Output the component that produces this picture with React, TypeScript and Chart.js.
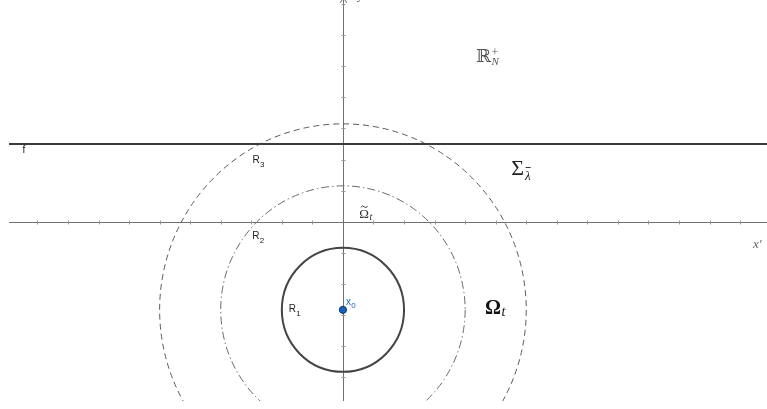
import React, { useEffect, useRef } from "react";
import { Chart, registerables } from "chart.js";

Chart.register(...registerables);

// view window (data units)
const xBounds = [-10.93, 13.88];
const yBounds = [-5.79, 7.145];

// axis tick values
const xTicks = [-10, -9, -8, -7, -6, -5, -4, -3, -2, -1, 1, 2, 3, 4, 5, 6, 7, 8, 9, 10, 11, 12, 13];
const yTicks = [-5, -4, -3, -2, -1, 1, 2, 3, 4, 5, 6, 7];

// line f : y = 2.5
const fLineX = [-10.93, 13.88];
const fLineY = [2.5, 2.5];

// centre x0 and the three circles R1, R2, R3
const centerX = [0];
const centerY = [-2.85];
const radii = [2, 4, 6];

const SERIF = "'Liberation Serif', 'DejaVu Serif', serif";
const SANS = "'Liberation Sans', Arial, sans-serif";

function drawText(
  ctx: CanvasRenderingContext2D,
  s: string,
  x: number,
  y: number,
  font: string,
  color: string
): number {
  ctx.font = font;
  ctx.fillStyle = color;
  ctx.textAlign = "left";
  ctx.textBaseline = "alphabetic";
  ctx.fillText(s, x, y);
  return ctx.measureText(s).width;
}

const geometryPlugin = {
  id: "geometry",
  beforeDatasetsDraw(chart: any) {
    const { ctx, chartArea } = chart;
    const xs = chart.scales.x;
    const ys = chart.scales.y;
    const px = (v: number) => xs.getPixelForValue(v);
    const py = (v: number) => ys.getPixelForValue(v);

    ctx.save();
    ctx.beginPath();
    ctx.rect(chartArea.left, -10, chartArea.right - chartArea.left, chartArea.bottom + 10);
    ctx.clip();

    // axes
    ctx.strokeStyle = "#707070";
    ctx.lineWidth = 1;
    ctx.setLineDash([]);
    const ax = Math.round(px(0)) + 0.5;
    const ay = Math.round(py(0)) + 0.5;
    ctx.beginPath();
    ctx.moveTo(px(xBounds[0]), ay);
    ctx.lineTo(px(xBounds[1]), ay);
    ctx.moveTo(ax, py(yBounds[0]));
    ctx.lineTo(ax, -5);
    ctx.stroke();
    // arrow tip of vertical axis
    ctx.beginPath();
    ctx.moveTo(ax - 3.5, 3);
    ctx.lineTo(ax, -2);
    ctx.lineTo(ax + 3.5, 3);
    ctx.stroke();

    // ticks
    ctx.strokeStyle = "#999999";
    ctx.beginPath();
    xTicks.forEach((t) => {
      const x = Math.round(px(t)) + 0.5;
      ctx.moveTo(x, ay - 2);
      ctx.lineTo(x, ay + 2);
    });
    yTicks.forEach((t) => {
      const y = Math.round(py(t)) + 0.5;
      ctx.moveTo(ax - 2, y);
      ctx.lineTo(ax + 2, y);
    });
    ctx.stroke();

    // circles
    const cx = px(centerX[0]);
    const cy = py(centerY[0]);
    const styles = [
      { color: "#444444", width: 2, dash: [] as number[] },
      { color: "#6a6a6a", width: 1, dash: [8, 3, 1.5, 3] },
      { color: "#5a5a5a", width: 1, dash: [6, 4] },
    ];
    radii.forEach((r, i) => {
      const rx = Math.abs(px(centerX[0] + r) - cx);
      const ry = Math.abs(py(centerY[0] + r) - cy);
      const st = styles[i];
      ctx.strokeStyle = st.color;
      ctx.lineWidth = st.width;
      ctx.setLineDash(st.dash);
      ctx.beginPath();
      ctx.ellipse(cx, cy, rx, ry, 0, 0, Math.PI * 2);
      ctx.stroke();
    });
    ctx.setLineDash([]);
    ctx.restore();
  },
  afterDatasetsDraw(chart: any) {
    const { ctx } = chart;
    const xs = chart.scales.x;
    const ys = chart.scales.y;
    const px = (v: number) => xs.getPixelForValue(v);
    const py = (v: number) => ys.getPixelForValue(v);
    ctx.save();

    // y axis name (mostly cut off at top)
    drawText(ctx, "y", px(0.49), py(7.18), `italic 13px ${SERIF}`, "#555");

    // R_N^+
    {
      const x = px(4.354), y = py(5.145);
      const w = drawText(ctx, "ℝ", x, y, `18px ${SERIF}`, "#555");
      drawText(ctx, "+", x + w + 0.5, y - 6.5, `12px ${SERIF}`, "#555");
      drawText(ctx, "N", x + w + 0.5, y + 3, `italic 11px ${SERIF}`, "#555");
    }

    // f
    drawText(ctx, "f", px(-10.485), py(2.21), `10px ${SANS}`, "#222");

    // R labels
    const rl = [
      { t: "3", x: -2.962, y: 1.887 },
      { t: "2", x: -2.969, y: -0.565 },
      { t: "1", x: -1.777, y: -2.91 },
    ];
    rl.forEach((l) => {
      const x = px(l.x), y = py(l.y);
      const w = drawText(ctx, "R", x, y, `10px ${SANS}`, "#222");
      drawText(ctx, l.t, x + w + 0.3, y + 4.3, `8px ${SANS}`, "#222");
    });

    // x0 label
    {
      const x = px(0.098), y = py(-2.694);
      const w = drawText(ctx, "x", x, y, `10px ${SANS}`, "#1565C0");
      drawText(ctx, "0", x + w + 0.2, y + 3.4, `8px ${SANS}`, "#1565C0");
    }

    // tilde Omega_t
    {
      const x = px(0.534), y = py(0.103);
      const w = drawText(ctx, "Ω", x, y, `13px ${SERIF}`, "#333");
      ctx.strokeStyle = "#333";
      ctx.lineWidth = 0.9;
      ctx.beginPath();
      ctx.moveTo(x + 1.5, y - 11);
      ctx.quadraticCurveTo(x + 3.2, y - 13.5, x + 5, y - 11.5);
      ctx.quadraticCurveTo(x + 6.8, y - 9.8, x + 8.5, y - 12);
      ctx.stroke();
      drawText(ctx, "t", x + w + 0.5, y + 1.5, `italic 10px ${SERIF}`, "#333");
    }

    // Sigma_lambda-bar
    {
      const x = px(5.51), y = py(1.5);
      const w = drawText(ctx, "Σ", x, y, `22px ${SERIF}`, "#222");
      const lw = drawText(ctx, "λ", x + w + 1, y + 5, `italic 13px ${SERIF}`, "#222");
      ctx.strokeStyle = "#222";
      ctx.lineWidth = 0.9;
      ctx.beginPath();
      ctx.moveTo(x + w + 1.5, y - 7.5);
      ctx.lineTo(x + w + 1 + lw, y - 7.5);
      ctx.stroke();
    }

    // bold Omega_t
    {
      const x = px(4.648), y = py(-2.984);
      const w = drawText(ctx, "Ω", x, y, `bold 20px ${SERIF}`, "#111");
      drawText(ctx, "t", x + w + 0.5, y + 1.5, `italic 14px ${SERIF}`, "#111");
    }

    // x' axis name
    drawText(ctx, "x′", px(13.42), py(-0.865), `italic 13px ${SERIF}`, "#666");

    ctx.restore();
  },
};

export default function App() {
  const ref = useRef<HTMLCanvasElement | null>(null);

  useEffect(() => {
    if (!ref.current) return;
    const chart = new Chart(ref.current, {
      type: "scatter",
      data: {
        datasets: [
          {
            label: "f",
            data: fLineX.map((x, i) => ({ x, y: fLineY[i] })),
            showLine: true,
            borderColor: "#3c3c3c",
            borderWidth: 2,
            pointRadius: 0,
          },
          {
            label: "x0",
            data: centerX.map((x, i) => ({ x, y: centerY[i] })),
            pointRadius: 3.6,
            pointBackgroundColor: "#1565C0",
            pointBorderColor: "#0b2f66",
            pointBorderWidth: 1,
          },
        ],
      },
      options: {
        responsive: false,
        animation: false,
        events: [],
        layout: { autoPadding: false, padding: { left: 9, top: 0, right: 0, bottom: 8 } },
        scales: {
          x: { type: "linear", min: xBounds[0], max: xBounds[1], display: false },
          y: { type: "linear", min: yBounds[0], max: yBounds[1], display: false },
        },
        plugins: { legend: { display: false }, tooltip: { enabled: false } },
      },
      plugins: [geometryPlugin],
    });
    return () => chart.destroy();
  }, []);

  return (
    <canvas
      ref={ref}
      width={767}
      height={409}
      style={{ position: "fixed", left: 0, top: 0, width: 767, height: 409, background: "#fff" }}
    />
  );
}
